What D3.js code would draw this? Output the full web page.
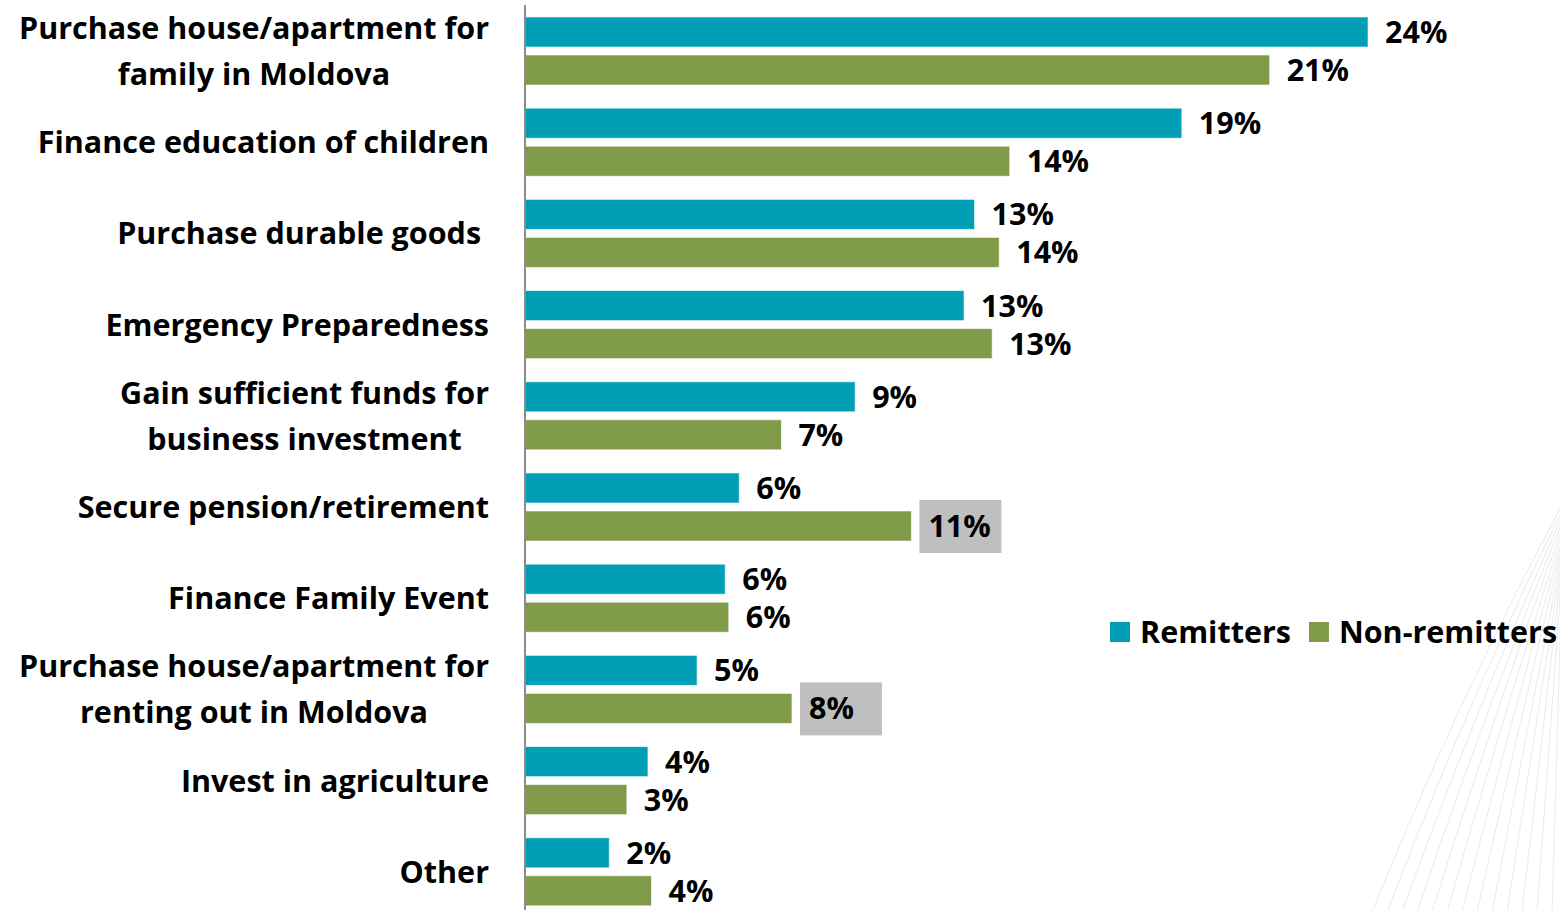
<!DOCTYPE html>
<meta charset="utf-8">
<script src="https://d3js.org/d3.v7.min.js"></script>
<style>
  body { margin: 0; background: #fff; }
  text { font-family: "Open Sans", sans-serif; font-weight: bold; fill: #000; }
</style>
<body>
<div id="my_dataviz"></div>
<script>

// categories (lines of each label)
var categories = [
  ["Purchase house/apartment for", "family in Moldova"],
  ["Finance education of children"],
  ["Purchase durable goods "],
  ["Emergency Preparedness"],
  ["Gain sufficient funds for", "business investment"],
  ["Secure pension/retirement"],
  ["Finance Family Event"],
  ["Purchase house/apartment for", "renting out in Moldova"],
  ["Invest in agriculture"],
  ["Other"]
];
var seriesNames = ["Remitters", "Non-remitters"];
var colors = ["#009FB5", "#7F9A48"];

// values in % and the printed labels
var remitters    = [24.0, 18.7, 12.8, 12.5, 9.4, 6.1, 5.7, 4.9, 3.5, 2.4];
var nonRemitters = [21.2, 13.8, 13.5, 13.3, 7.3, 11.0, 5.8, 7.6, 2.9, 3.6];
var remLabels    = ["24%", "19%", "13%", "13%", "9%", "6%", "6%", "5%", "4%", "2%"];
var nonLabels    = ["21%", "14%", "14%", "13%", "7%", "11%", "6%", "8%", "3%", "4%"];
// labels shown on a grey box
var highlighted = ["Non-remitters|5", "Non-remitters|7"];

var width = 1560, height = 910;
var axisX = 525;
var fontSize = "30.5px";

var svg = d3.select("#my_dataviz")
  .append("svg")
  .attr("width", width)
  .attr("height", height);

// faint background decoration
var deco = svg.append("g").attr("stroke", "#ededed").attr("stroke-width", 1.2).attr("fill", "none");
for (var i = 0; i < 13; i++) {
  var bx = 1372 + i * 15;
  deco.append("path")
    .attr("d", "M" + bx + ",912 Q" + (bx + (1562 - bx) * 0.45) + "," + (700 + i * 6) + " 1562," + (505 + i * 6));
}

var rows = categories.map(function (c, i) { return i; });

var y = d3.scaleBand()
  .domain(rows)
  .range([5.4, 917.4])
  .paddingInner(0.254)
  .paddingOuter(0.127);

var ySub = d3.scaleBand()
  .domain(seriesNames)
  .range([0, y.bandwidth()])
  .paddingInner(0.21)
  .paddingOuter(0);

var x = d3.scaleLinear()
  .domain([0, 24])
  .range([axisX, 1368]);

var data = [];
rows.forEach(function (i) {
  data.push({ row: i, key: "Remitters", value: remitters[i], label: remLabels[i] });
  data.push({ row: i, key: "Non-remitters", value: nonRemitters[i], label: nonLabels[i] });
});

// bars
svg.append("g")
  .selectAll("rect")
  .data(data)
  .enter().append("rect")
  .attr("x", x(0))
  .attr("y", function (d) { return y(d.row) + ySub(d.key); })
  .attr("width", function (d) { return x(d.value) - x(0); })
  .attr("height", ySub.bandwidth())
  .attr("fill", function (d) { return colors[seriesNames.indexOf(d.key)]; })
  .attr("stroke", "#ffffff")
  .attr("stroke-opacity", 0.6)
  .attr("stroke-width", 1);

// value labels
var vl = svg.append("g")
  .selectAll("g")
  .data(data)
  .enter().append("g")
  .attr("transform", function (d) {
    return "translate(" + (x(d.value) + 17) + "," + (y(d.row) + ySub(d.key) + ySub.bandwidth() / 2) + ")";
  });

vl.filter(function (d) { return highlighted.indexOf(d.key + "|" + d.row) >= 0; })
  .append("rect")
  .attr("x", -9)
  .attr("y", -26)
  .attr("width", 82)
  .attr("height", 53)
  .attr("fill", "#BFBFBF");

vl.append("text")
  .attr("dy", "0.36em")
  .style("font-size", fontSize)
  .text(function (d) { return d.label; });

// category labels: block right aligned, lines centered inside it
var labelRight = 489, lineH = 46;
var cat = svg.append("g")
  .selectAll("text")
  .data(categories)
  .enter().append("text")
  .style("font-size", fontSize)
  .attr("text-anchor", "middle")
  .attr("xml:space", "preserve");

cat.each(function (lines, i) {
  var t = d3.select(this);
  var cy = y(i) + y.bandwidth() / 2;
  var y0 = cy - (lines.length - 1) * lineH / 2;
  lines.forEach(function (l, j) {
    t.append("tspan")
      .attr("y", y0 + j * lineH)
      .attr("dy", "0.36em")
      .text(l);
  });
  var maxW = 0;
  t.selectAll("tspan").each(function () { maxW = Math.max(maxW, this.getComputedTextLength()); });
  t.selectAll("tspan").attr("x", labelRight - maxW / 2);
});

// axis line
svg.append("line")
  .attr("x1", axisX).attr("x2", axisX)
  .attr("y1", 5).attr("y2", height)
  .attr("stroke", "#8c8c8c")
  .attr("stroke-width", 2);

// legend
var legend = svg.append("g").attr("transform", "translate(1110,632)");
var lx = 0;
seriesNames.forEach(function (s, i) {
  var g = legend.append("g").attr("transform", "translate(" + lx + ",0)");
  g.append("rect").attr("x", 0).attr("y", -10).attr("width", 20).attr("height", 20).attr("fill", colors[i]);
  var t = g.append("text").attr("x", 30).attr("dy", "0.36em").style("font-size", fontSize).text(s);
  lx += 30 + t.node().getComputedTextLength() + 18;
});

</script>
</body>
